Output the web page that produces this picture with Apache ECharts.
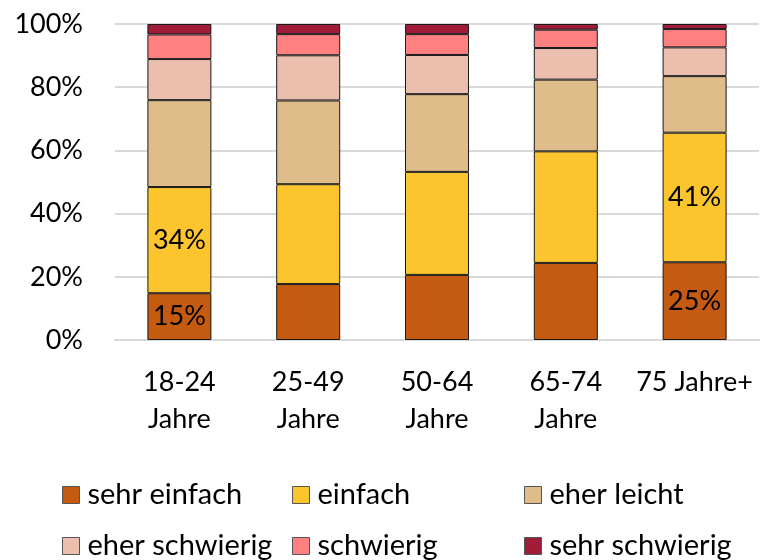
<!DOCTYPE html>
<html>
<head>
<meta charset="utf-8">
<script src="https://cdn.jsdelivr.net/npm/echarts@6/dist/echarts.min.js"></script>
<style>
  html, body { margin: 0; padding: 0; background: #fff; }
  #chart { width: 760px; height: 560px; }
</style>
</head>
<body>
<div id="chart"></div>
<script>
// Altersgruppen
const categories = ['18-24\nJahre', '25-49\nJahre', '50-64\nJahre', '65-74\nJahre', '75 Jahre+']

// Anteile in Prozent (von unten nach oben gestapelt)
const sehrEinfach = [14.8, 17.7, 20.6, 24.4, 24.6]
const einfach = [33.6, 31.6, 32.6, 35.3, 41.0]
const eherLeicht = [27.5, 26.5, 24.6, 22.7, 17.9]
const eherSchwierig = [13.0, 14.3, 12.4, 10.0, 9.1]
const schwierig = [7.8, 6.7, 6.6, 5.8, 5.8]
const sehrSchwierig = [3.3, 3.2, 3.2, 1.8, 1.6]

const seriesNames = ['sehr einfach', 'einfach', 'eher leicht', 'eher schwierig', 'schwierig', 'sehr schwierig']
const seriesValues = [sehrEinfach, einfach, eherLeicht, eherSchwierig, schwierig, sehrSchwierig]
const colors = ['#C55A11', '#FCC42D', '#DEBD8A', '#ECBEAD', '#FF8080', '#A01C38']

// nur diese Felder bekommen eine Beschriftung
const labeledCells = [[0, 0], [0, 4], [1, 0], [1, 4]]

const yTicks = [0, 20, 40, 60, 80, 100]

const font = 'Lato, "Open Sans", sans-serif'

const chart = echarts.init(document.getElementById('chart'))

const series = seriesNames.map((name, s) => ({
  name,
  type: 'bar',
  stack: 'total',
  barWidth: 64,
  itemStyle: { color: colors[s], borderColor: '#1a1a1a', borderWidth: 1 },
  label: {
    show: false,
    position: 'inside',
    color: '#000',
    fontSize: 27,
    fontFamily: font,
    formatter: p => Math.round(p.value) + '%',
  },
  data: seriesValues[s].map((v, i) => {
    const lab = labeledCells.some(c => c[0] === s && c[1] === i)
    return lab ? { value: v, label: { show: true } } : v
  }),
}))

// Legende: zwei Zeilen, drei Spalten
const legendCols = [62, 292, 524]
const legendRows = [480, 531]
const legends = seriesNames.map((name, i) => ({
  data: [name],
  left: legendCols[i % 3],
  top: legendRows[Math.floor(i / 3)],
  itemWidth: 17,
  itemHeight: 17,
  itemGap: 0,
  icon: 'rect',
  padding: 0,
  selectedMode: false,
  itemStyle: { borderColor: '#555', borderWidth: 1 },
  textStyle: { fontSize: 29, lineHeight: 30, fontFamily: font, color: '#000', padding: [0, 0, 0, 3] },
}))

chart.setOption({
  animation: false,
  grid: { left: 115, right: 1, top: 24, bottom: 220 },
  legend: legends,
  xAxis: {
    type: 'category',
    data: categories,
    axisLine: { show: true, lineStyle: { color: '#D9D9D9', width: 2 } },
    axisTick: { show: false },
    axisLabel: {
      color: '#000',
      fontSize: 27,
      fontFamily: font,
      lineHeight: 37,
      margin: 24,
      interval: 0,
    },
  },
  yAxis: {
    type: 'value',
    min: yTicks[0],
    max: yTicks[yTicks.length - 1],
    interval: 20,
    axisLine: { show: false },
    axisTick: { show: false },
    splitLine: { lineStyle: { color: '#D9D9D9', width: 2 } },
    axisLabel: {
      color: '#000',
      fontSize: 27,
      fontFamily: font,
      margin: 32,
      formatter: v => v + '%',
    },
  },
  series,
})
</script>
</body>
</html>
